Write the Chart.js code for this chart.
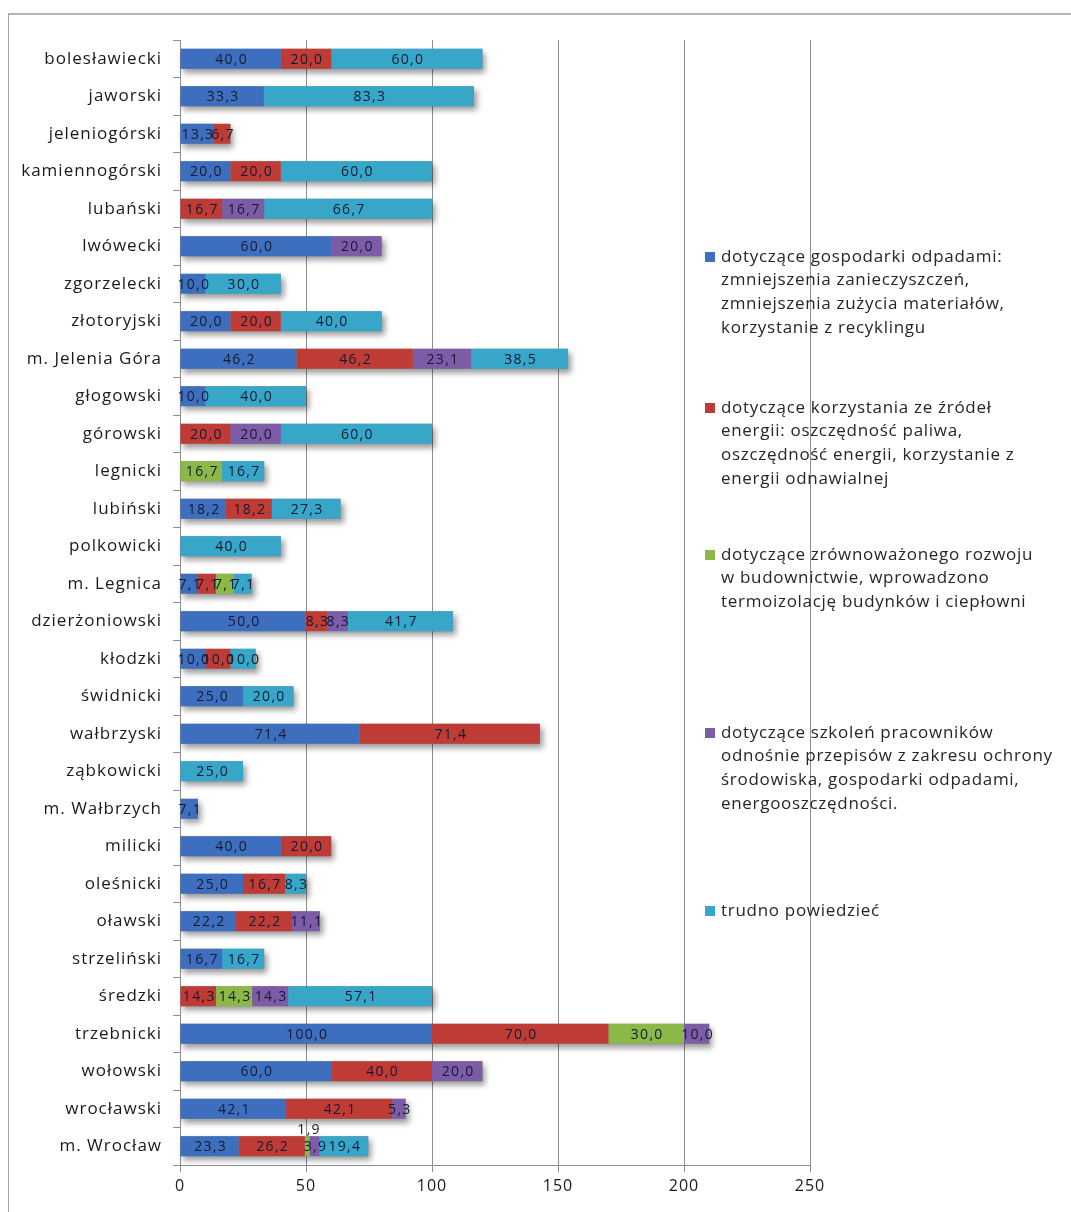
<!DOCTYPE html>
<html>
<head>
<meta charset="utf-8">
<title>Działania proekologiczne w powiatach</title>
<script src="https://cdn.jsdelivr.net/npm/chart.js@4.4.1/dist/chart.umd.min.js"></script>
<style>
  html, body { margin: 0; padding: 0; background: #fff; overflow: hidden; }
  #wrap { position: relative; width: 1071px; height: 1212px; }
  #frame {
    position: absolute; left: 8px; top: 13px; width: 1200px; height: 1300px;
    border-left: 1px solid #a6a6a6; border-top: 2px solid #b4b4b4;
  }
  #chart { position: absolute; left: 0; top: 0; }
</style>
</head>
<body>
<div id="wrap">
  <div id="frame"></div>
  <canvas id="chart" width="1071" height="1212"></canvas>
</div>
<script>
// powiaty, od góry do dołu
var categories = ["bolesławiecki", "jaworski", "jeleniogórski", "kamiennogórski", "lubański",
  "lwówecki", "zgorzelecki", "złotoryjski", "m. Jelenia Góra", "głogowski", "górowski",
  "legnicki", "lubiński", "polkowicki", "m. Legnica", "dzierżoniowski", "kłodzki",
  "świdnicki", "wałbrzyski", "ząbkowicki", "m. Wałbrzych", "milicki", "oleśnicki",
  "oławski", "strzeliński", "średzki", "trzebnicki", "wołowski", "wrocławski", "m. Wrocław"];

// odsetki odpowiedzi (null = brak)
var waste        = [40.0, 33.3, 13.3, 20.0, null, 60.0, 10.0, 20.0, 46.2, 10.0, null, null, 18.2, null, 7.1,
                    50.0, 10.0, 25.0, 71.4, null, 7.1, 40.0, 25.0, 22.2, 16.7, null, 100.0, 60.0, 42.1, 23.3];
var energy       = [20.0, null, 6.7, 20.0, 16.7, null, null, 20.0, 46.2, null, 20.0, null, 18.2, null, 7.1,
                    8.3, 10.0, null, 71.4, null, null, 20.0, 16.7, 22.2, null, 14.3, 70.0, 40.0, 42.1, 26.2];
var construction = [null, null, null, null, null, null, null, null, null, null, null, 16.7, null, null, 7.1,
                    null, null, null, null, null, null, null, null, null, null, 14.3, 30.0, null, null, 1.9];
var training     = [null, null, null, null, 16.7, 20.0, null, null, 23.1, null, 20.0, null, null, null, null,
                    8.3, null, null, null, null, null, null, null, 11.1, null, 14.3, 10.0, 20.0, 5.3, 3.9];
var hardToSay    = [60.0, 83.3, null, 60.0, 66.7, null, 30.0, 40.0, 38.5, 40.0, 60.0, 16.7, 27.3, 40.0, 7.1,
                    41.7, 10.0, 20.0, null, 25.0, null, null, 8.3, null, 16.7, 57.1, null, null, null, 19.4];

var xTicks = [0, 50, 100, 150, 200, 250];

var seriesNames = [
  ["dotyczące gospodarki odpadami:", "zmniejszenia zanieczyszczeń,", "zmniejszenia zużycia materiałów,", "korzystanie z recyklingu"],
  ["dotyczące korzystania ze źródeł", "energii: oszczędność paliwa,", "oszczędność energii, korzystanie z", "energii odnawialnej"],
  ["dotyczące zrównoważonego rozwoju", "w budownictwie, wprowadzono", "termoizolację budynków i ciepłowni"],
  ["dotyczące szkoleń pracowników", "odnośnie przepisów z zakresu ochrony", "środowiska, gospodarki odpadami,", "energooszczędności."],
  ["trudno powiedzieć"]
];
var seriesColors = ["#3d6fbe", "#bf3b36", "#8cb847", "#7c5ca6", "#37a6c8"];
var seriesData = [waste, energy, construction, training, hardToSay];

var CAT_PCT = 0.53;

// nieco szersze odstępy liter w opisach osi
var axisSpacing = {
  id: "axisSpacing",
  beforeDraw: function(chart) { chart.ctx.letterSpacing = "1px"; }
};

// cień pod każdym słupkiem (rysowany pod całym stosem)
var barShadow = {
  id: "barShadow",
  beforeDatasetsDraw: function(chart) {
    var ctx = chart.ctx, xs = chart.scales.x, ys = chart.scales.y;
    var band = Math.abs(ys.getPixelForValue(1) - ys.getPixelForValue(0));
    var h = band * CAT_PCT;
    ctx.save();
    ctx.shadowColor = "rgba(0,0,0,0.4)";
    ctx.shadowBlur = 6;
    ctx.shadowOffsetX = 3;
    ctx.shadowOffsetY = 4;
    ctx.fillStyle = "#888";
    categories.forEach(function(c, i) {
      var total = 0;
      seriesData.forEach(function(s) { if (s[i] != null) total += s[i]; });
      var x0 = xs.getPixelForValue(0), x1 = xs.getPixelForValue(total);
      var y = ys.getPixelForValue(i);
      ctx.fillRect(x0, y - h / 2, x1 - x0, h);
    });
    ctx.restore();
  }
};

// etykiety wartości na segmentach
var segLabels = {
  id: "segLabels",
  afterDatasetsDraw: function(chart) {
    var ctx = chart.ctx;
    ctx.save();
    ctx.font = "14px 'Open Sans'";
    ctx.letterSpacing = "1.3px";
    ctx.fillStyle = "#141a33";
    ctx.textAlign = "center";
    chart.data.datasets.forEach(function(ds, di) {
      var meta = chart.getDatasetMeta(di);
      meta.data.forEach(function(el, i) {
        var v = ds.data[i];
        if (v == null) return;
        var txt = v.toFixed(1).replace(".", ",");
        var cx = (el.x + el.base) / 2;
        var w = Math.abs(el.x - el.base);
        if (w < 8) {
          ctx.textBaseline = "bottom";
          ctx.fillText(txt, cx + 2, el.y - el.height / 2 + 1);
        } else {
          ctx.textBaseline = "middle";
          ctx.fillText(txt, cx + 1, el.y + 1);
        }
      });
    });
    ctx.restore();
  }
};

// legenda po prawej stronie, na tle siatki
var sideLegend = {
  id: "sideLegend",
  afterDraw: function(chart) {
    var ctx = chart.ctx;
    var firstLines = [257, 408, 555, 733, 911];
    var lineH = 23.6;
    ctx.save();
    ctx.font = "17px 'Open Sans'";
    ctx.letterSpacing = "0.7px";
    ctx.textAlign = "left";
    ctx.textBaseline = "middle";
    seriesNames.forEach(function(lines, k) {
      var y0 = firstLines[k];
      ctx.fillStyle = seriesColors[k];
      ctx.fillRect(705, y0 - 5, 10, 10);
      ctx.fillStyle = "#262626";
      lines.forEach(function(t, j) {
        ctx.fillText(t, 721, y0 + j * lineH);
      });
    });
    ctx.restore();
  }
};

var ctx = document.getElementById("chart");

var chart = new Chart(ctx, {
  type: "bar",
  data: {
    labels: categories,
    datasets: seriesData.map(function(d, k) {
      return {
        label: seriesNames[k].join(" "),
        data: d,
        backgroundColor: seriesColors[k],
        borderWidth: 0,
        barPercentage: 1.0,
        categoryPercentage: CAT_PCT
      };
    })
  },
  options: {
    indexAxis: "y",
    responsive: false,
    animation: false,
    devicePixelRatio: 1,
    layout: { padding: { top: 40, right: 261, bottom: 0, left: 0 } },
    plugins: {
      legend: { display: false },
      tooltip: { enabled: false }
    },
    scales: {
      x: {
        stacked: true,
        min: 0,
        max: 250,
        afterBuildTicks: function(s) { s.ticks = xTicks.map(function(v) { return { value: v }; }); },
        afterFit: function(s) { s.height = 47; },
        grid: {
          color: "#8e8e8e",
          lineWidth: 1,
          drawTicks: true,
          tickLength: 7
        },
        border: { display: true, color: "#8e8e8e" },
        ticks: {
          color: "#1a1a1a",
          font: { family: "'Open Sans'", size: 16 },
          padding: 5
        }
      },
      y: {
        stacked: true,
        afterFit: function(s) { s.width = 180; },
        grid: {
          drawOnChartArea: false,
          drawTicks: true,
          tickLength: 7,
          color: "#8e8e8e"
        },
        border: { display: true, color: "#8e8e8e" },
        ticks: {
          color: "#1a1a1a",
          font: { family: "'Open Sans'", size: 17 },
          padding: 11,
          autoSkip: false
        }
      }
    }
  },
  plugins: [axisSpacing, barShadow, segLabels, sideLegend]
});
</script>
</body>
</html>
